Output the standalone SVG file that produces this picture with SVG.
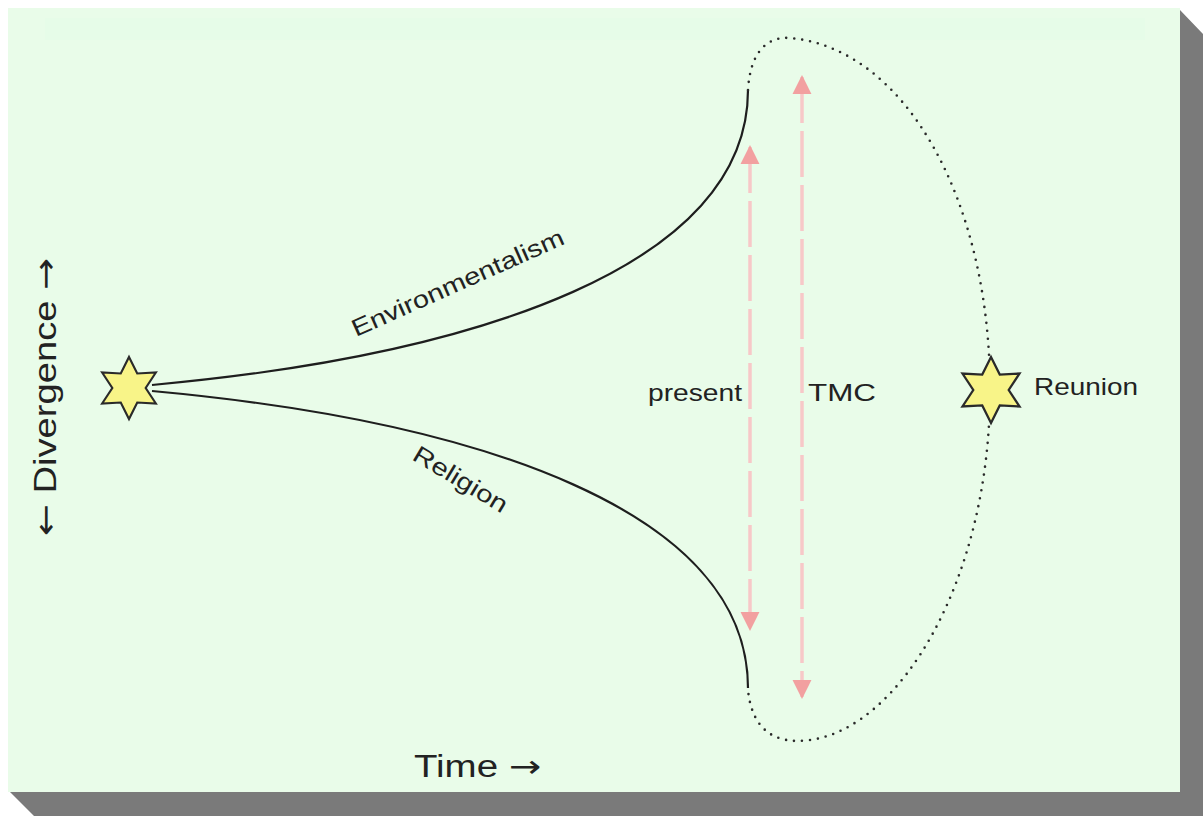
<svg xmlns="http://www.w3.org/2000/svg" width="1203" height="816" viewBox="0 0 1203 816">
<defs>
<style>
.lbl{font-family:"Liberation Sans",Arial,sans-serif;fill:#222;}
.arr{font-family:"DejaVu Sans",sans-serif;}
.star{fill:#f8f488;stroke:#2a2a2a;stroke-width:2.2;stroke-linejoin:miter;}
.branch{fill:none;stroke:#1e1e1e;stroke-width:2.2;}
.dots{fill:none;stroke:#2a2a2a;stroke-width:2.6;stroke-linecap:round;stroke-dasharray:0 8;}
.pink{fill:none;stroke:#f7c8c8;stroke-width:3.5;stroke-dasharray:46 8;}
</style>
<marker id="ph" viewBox="0 0 10 10" refX="9" refY="5" markerWidth="5.5" markerHeight="5.5" markerUnits="strokeWidth" orient="auto-start-reverse">
<path d="M0,0 L10,5 L0,10 Z" fill="#f2a0a0"/>
</marker>
<polygon id="hex" points="0,-32 8.5,-15 27.7,-16 17.2,0 27.7,16 8.5,15 0,32 -8.5,15 -27.7,16 -17.2,0 -27.7,-16 -8.5,-15"/>
</defs>
<rect x="0" y="0" width="1203" height="816" fill="#ffffff"/>
<polygon points="1180,10 1203,34 1203,816 34,816 10,792 1180,792" fill="#7a7a7a"/>
<rect x="8" y="8" width="1172" height="784" fill="#e9fce9"/>
<rect x="45" y="18" width="1100" height="22" fill="#e4fbe8" opacity="0.6"/>

<g id="connectors">
<path class="branch" d="M152,385 C480,355 748,265 748,90"/>
<path class="branch" d="M152,391 C480,421 748,511 748,688"/>
<path class="dots" d="M748,90 C750,55 765,36 790,38 C905,48 990,200 990,390 C990,580 900,728 810,740 C775,745 752,730 748,690"/>
<line class="pink" x1="750" y1="147" x2="750" y2="629" marker-start="url(#ph)" marker-end="url(#ph)"/>
<line class="pink" x1="802" y1="77" x2="802" y2="697" marker-start="url(#ph)" marker-end="url(#ph)"/>
</g>

<g id="star-start">
<use href="#hex" transform="translate(129,388) scale(0.97)" class="star"/>
</g>
<g id="star-reunion">
<use href="#hex" transform="translate(991,390) scale(1.03)" class="star"/>
<text class="lbl" x="1034" y="395" font-size="24" textLength="104" lengthAdjust="spacingAndGlyphs">Reunion</text>
</g>
<g id="label-env">
<text class="lbl" font-size="24" transform="translate(356,337) rotate(-24)" textLength="230" lengthAdjust="spacingAndGlyphs">Environmentalism</text>
</g>
<g id="label-rel">
<text class="lbl" font-size="24" transform="translate(411,459) rotate(31)" textLength="106" lengthAdjust="spacingAndGlyphs">Religion</text>
</g>
<g id="label-present">
<text class="lbl" x="648" y="401" font-size="24" textLength="94" lengthAdjust="spacingAndGlyphs">present</text>
</g>
<g id="label-tmc">
<text class="lbl" x="808" y="401" font-size="24" textLength="68" lengthAdjust="spacingAndGlyphs">TMC</text>
</g>
<g id="axis-time">
<text class="lbl" x="414" y="777" font-size="31" textLength="127" lengthAdjust="spacingAndGlyphs">Time <tspan class="arr">→</tspan></text>
</g>
<g id="axis-divergence">
<text class="lbl" font-size="31" transform="translate(56,536) rotate(-90)" textLength="278" lengthAdjust="spacingAndGlyphs"><tspan class="arr">←</tspan> Divergence <tspan class="arr">→</tspan></text>
</g>
</svg>
